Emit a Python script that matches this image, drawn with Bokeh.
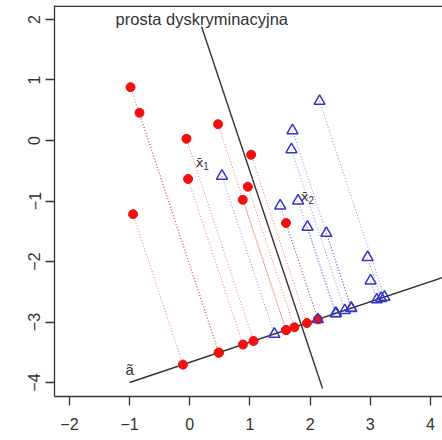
import numpy as np
from bokeh.plotting import figure
from bokeh.models import Range1d, Span, FixedTicker
from bokeh.core.properties import value
from bokeh.embed import file_html
from bokeh.resources import INLINE

# class 1 (red filled circles)
red_x = [-0.985, -0.836, 0.47, -0.055, 1.02, -0.028, 0.965, 0.88, -0.943, 1.60]
red_y = [0.881, 0.458, 0.269, 0.028, -0.235, -0.636, -0.764, -0.98, -1.218, -1.364]
# class 2 (blue open triangles)
blue_x = [0.535, 1.503, 1.80, 1.957, 2.27, 1.69, 2.157, 1.707, 2.955, 3.005]
blue_y = [-0.587, -1.078, -0.997, -1.43, -1.532, -0.149, 0.65, 0.165, -1.929, -2.319]

# projection axis a~ and discriminant line
axis_a_x = [-1.0, 4.5]
axis_a_y = [-4.0, -2.1667]
disc_x = [0.195, 2.207]
disc_y = [1.884, -4.099]

x_ticks = [-2, -1, 0, 1, 2, 3, 4]
x_tick_labels = ["\u22122", "\u22121", "0", "1", "2", "3", "4"]
y_ticks = [-4, -3, -2, -1, 0, 1, 2]
y_tick_labels = ["\u22124", "\u22123", "\u22122", "\u22121", "0", "1", "2"]

title_text = "prosta dyskryminacyjna"
title_pos = (0.2, 2.0)
a_label = "\u00e3"
a_label_pos = (-1.0, -3.79)

# orthogonal projection onto axis a
p0 = np.array([axis_a_x[0], axis_a_y[0]])
d = np.array([axis_a_x[1] - axis_a_x[0], axis_a_y[1] - axis_a_y[0]])
d = d / np.linalg.norm(d)


def project(xs, ys):
    pts = np.column_stack([xs, ys]) - p0
    t = pts @ d
    pr = p0 + np.outer(t, d)
    return pr[:, 0], pr[:, 1]


red_px, red_py = project(red_x, red_y)
blue_px, blue_py = project(blue_x, blue_y)

m1 = (float(np.mean(red_x)), float(np.mean(red_y)))
m2 = (float(np.mean(blue_x)), float(np.mean(blue_y)))

RED = "#f01010"
BLUE = "#3535c8"
DARK = "#333333"
FONT = "Liberation Sans"

Y_TOP = 2.231
p = figure(width=442, height=440,
           x_range=Range1d(-2.249, 4.201), y_range=Range1d(-4.231, Y_TOP),
           output_backend="svg", toolbar_location=None,
           min_border_left=54, min_border_right=0,
           min_border_top=5, min_border_bottom=44)
p.grid.visible = False
p.outline_line_color = None
p.background_fill_color = "white"
p.border_fill_color = "white"

p.add_layout(Span(location=Y_TOP - 0.012, dimension="width",
                  line_color=DARK, line_width=1.3))

for ax in (p.xaxis[0], p.yaxis[0]):
    ax.major_tick_in = 0
    ax.major_tick_out = 9
    ax.minor_tick_line_color = None
    ax.axis_line_color = DARK
    ax.axis_line_width = 1.3
    ax.major_tick_line_color = DARK
    ax.major_tick_line_width = 1.3
    ax.major_label_text_font = FONT
    ax.major_label_text_font_size = "16px"
    ax.major_label_text_color = DARK

p.xaxis.major_label_standoff = 12
p.yaxis.major_label_standoff = 5
p.xaxis.ticker = FixedTicker(ticks=x_ticks)
p.xaxis.major_label_overrides = dict(zip(x_ticks, x_tick_labels))
p.yaxis.ticker = FixedTicker(ticks=y_ticks)
p.yaxis.major_label_overrides = dict(zip(y_ticks, y_tick_labels))
p.yaxis.major_label_orientation = "vertical"

# dotted projection segments
p.segment(x0=red_x, y0=red_y, x1=red_px, y1=red_py,
          line_color=RED, line_alpha=0.5, line_width=1.1, line_dash="1 2")
p.segment(x0=blue_x, y0=blue_y, x1=blue_px, y1=blue_py,
          line_color=BLUE, line_alpha=0.5, line_width=1.1, line_dash="1 2")

# lines
p.line(axis_a_x, axis_a_y, line_color=DARK, line_width=1.4)
p.line(disc_x, disc_y, line_color=DARK, line_width=1.4)

# points
p.scatter(red_x, red_y, marker="circle", size=9, fill_color=RED, line_color=RED)
p.scatter(red_px, red_py, marker="circle", size=9, fill_color=RED, line_color=RED)
p.scatter(blue_x, blue_y, marker="triangle", size=11, fill_color=None,
          line_color=BLUE, line_width=1.5)
p.scatter(blue_px, blue_py, marker="triangle", size=11, fill_color=None,
          line_color=BLUE, line_width=1.5)

# labels
p.text(x=[title_pos[0]], y=[title_pos[1]], text=[title_text],
       text_font=value(FONT), text_font_size="16.5px", text_color=DARK,
       text_align="center", text_baseline="middle")
p.text(x=[a_label_pos[0]], y=[a_label_pos[1]], text=[a_label],
       text_font=value(FONT), text_font_size="15px", text_color=DARK,
       text_align="center", text_baseline="middle")

for (mx, my), sub in ((m1, "1"), (m2, "2")):
    p.text(x=[mx], y=[my], text=["x\u0304"], text_font=value("DejaVu Sans"),
           text_font_size="13px", text_color=DARK, text_align="right",
           text_baseline="middle", x_offset=1)
    p.text(x=[mx], y=[my], text=[sub], text_font=value(FONT),
           text_font_size="10px", text_color=DARK, text_align="left",
           text_baseline="middle", x_offset=1, y_offset=4)

open("out.html", "w").write(file_html(p, INLINE))
